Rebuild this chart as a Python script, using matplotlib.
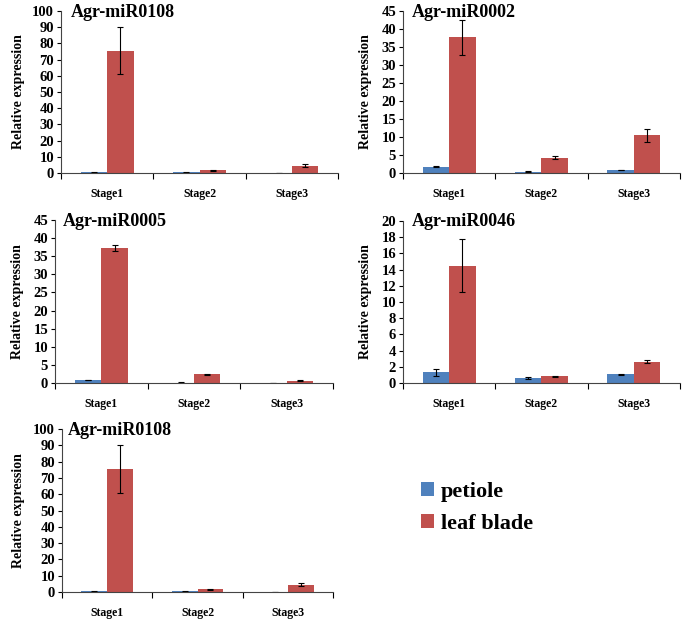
import matplotlib
matplotlib.use("Agg")
import matplotlib.pyplot as plt
from matplotlib.patches import Patch
import numpy as np

stages = ["Stage1", "Stage2", "Stage3"]
series_names = ["petiole", "leaf blade"]

titles = ["Agr-miR0108", "Agr-miR0002", "Agr-miR0005", "Agr-miR0046", "Agr-miR0108"]
ymax = [100, 45, 45, 20, 100]
ystep = [10, 5, 5, 2, 10]

petiole_0108 = [0.5, 0.4, 0.05]
petiole_0108_err = [0.2, 0.1, 0.0]
leaf_0108 = [75.5, 1.8, 4.5]
leaf_0108_err = [14.5, 0.3, 1.0]

petiole_0002 = [1.8, 0.4, 0.8]
petiole_0002_err = [0.2, 0.1, 0.1]
leaf_0002 = [37.7, 4.2, 10.5]
leaf_0002_err = [4.9, 0.4, 1.8]

petiole_0005 = [0.8, 0.1, 0.0]
petiole_0005_err = [0.1, 0.05, 0.0]
leaf_0005 = [37.2, 2.4, 0.6]
leaf_0005_err = [0.8, 0.2, 0.1]

petiole_0046 = [1.3, 0.6, 1.05]
petiole_0046_err = [0.4, 0.15, 0.1]
leaf_0046 = [14.5, 0.85, 2.65]
leaf_0046_err = [3.3, 0.05, 0.2]

panel_data = [
    (petiole_0108, petiole_0108_err, leaf_0108, leaf_0108_err),
    (petiole_0002, petiole_0002_err, leaf_0002, leaf_0002_err),
    (petiole_0005, petiole_0005_err, leaf_0005, leaf_0005_err),
    (petiole_0046, petiole_0046_err, leaf_0046, leaf_0046_err),
    (petiole_0108, petiole_0108_err, leaf_0108, leaf_0108_err),
]

BLUE = "#4F81BD"
RED = "#C0504D"
W, H = 685, 626

plt.rcParams["font.family"] = ["Liberation Serif", "DejaVu Serif"]
plt.rcParams["font.weight"] = "bold"

fig = plt.figure(figsize=(W / 100, H / 100), dpi=100)

# pixel boxes: left, right, top, bottom ; title (x, top) ; ylabel right-edge x
boxes = [
    (61, 338, 11, 173, 71, 4, 25),
    (403, 680, 11, 173, 412, 4, 372),
    (55, 333, 220, 383, 63, 213, 24),
    (403, 680, 221, 383, 412, 213, 372),
    (62, 333, 429, 592, 68, 422, 25),
]

bw = 1 / 3.5
x = np.arange(len(stages))
for i, (l, r, t, b, tx, ty, yl) in enumerate(boxes):
    ax = fig.add_axes([l / W, 1 - b / H, (r - l) / W, (b - t) / H])
    p, pe, lf, le = panel_data[i]
    ekw = dict(ecolor="black", elinewidth=0.8, capsize=2.5, capthick=0.8)
    ax.bar(x - bw / 2, p, bw, yerr=pe, color=BLUE, error_kw=ekw, zorder=2)
    ax.bar(x + bw / 2, lf, bw, yerr=le, color=RED, error_kw=ekw, zorder=2)
    ax.set_xlim(-0.5, 2.5)
    ax.set_ylim(0, ymax[i])
    ax.set_yticks(np.arange(0, ymax[i] + 0.01, ystep[i]))
    ax.set_xticks([-0.5, 0.5, 1.5, 2.5])
    ax.set_xticklabels([])
    ax.set_xticks(x, minor=True)
    ax.set_xticklabels(stages, minor=True, fontsize=8.5, fontweight="bold")
    ax.tick_params(axis="x", which="minor", length=0, pad=11)
    ax.tick_params(axis="x", which="major", length=4, direction="out", width=0.8)
    ax.tick_params(axis="y", length=3, width=0.8, labelsize=10.5, pad=2)
    for lab in ax.get_yticklabels():
        lab.set_fontweight("bold")
    for s in ["top", "right"]:
        ax.spines[s].set_visible(False)
    for s in ["left", "bottom"]:
        ax.spines[s].set_linewidth(0.8)
        ax.spines[s].set_color("#444444")
    ax.set_ylabel("Relative expression", fontsize=10, fontweight="bold")
    ax.yaxis.set_label_coords((yl - l) / (r - l), 0.5)
    fig.text(tx / W, 1 - ty / H, titles[i], fontsize=13, fontweight="bold",
             ha="left", va="top")

handles = [Patch(facecolor=BLUE), Patch(facecolor=RED)]
fig.legend(handles, series_names, loc="upper left",
           bbox_to_anchor=(412 / W, 1 - 473 / H), frameon=False,
           prop={"family": "Liberation Serif", "weight": "bold", "size": 16},
           handlelength=0.6, handleheight=0.6, handletextpad=0.3,
           labelspacing=0.55, borderaxespad=0)

fig.savefig("out.png", dpi=100)
